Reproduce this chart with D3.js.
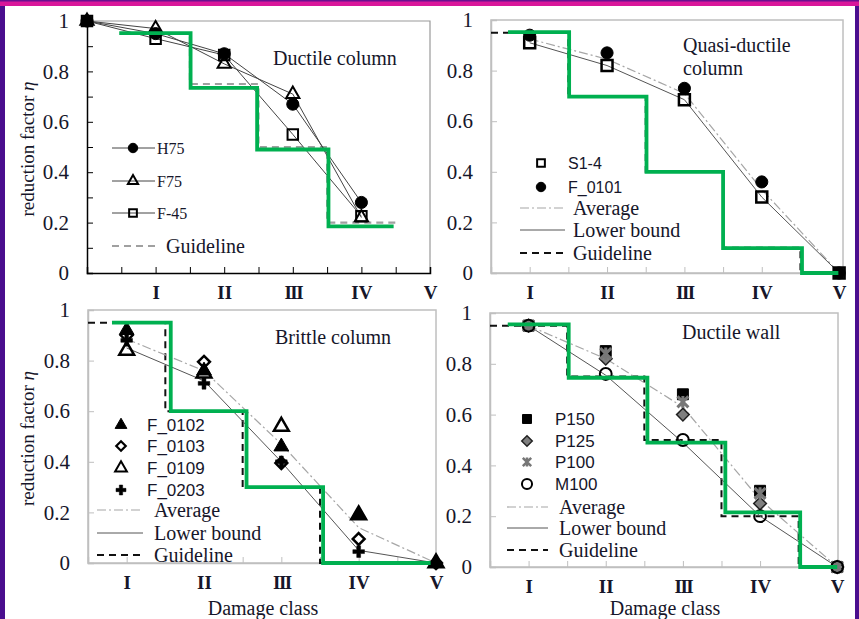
<!DOCTYPE html>
<html>
<head>
<meta charset="utf-8">
<script src="https://cdn.jsdelivr.net/npm/d3@7"></script>
<style>
  body { margin: 0; background: #fff; }
  svg { display: block; }
  text { fill: #16162a; }
  .serif { font-family: "Liberation Serif", "Times New Roman", serif; }
  .sans { font-family: "Liberation Sans", Arial, sans-serif; }
</style>
</head>
<body>
<svg id="chart" width="859" height="619"></svg>
<script>
const classes = ["I", "II", "III", "IV", "V"];
const yTicks = [0, 0.2, 0.4, 0.6, 0.8, 1];
const yTicksFine = [0, 0.1, 0.2, 0.3, 0.4, 0.5, 0.6, 0.7, 0.8, 0.9, 1];
const xTicks = [0.5, 1, 1.5, 2, 2.5, 3, 3.5, 4, 4.5, 5];

// ductile column
const dcX = [0, 1, 2, 3, 4];
const dcH75 = [1.0, 0.95, 0.87, 0.67, 0.28];
const dcF75 = [1.0, 0.97, 0.83, 0.71, 0.22];
const dcF45 = [1.0, 0.93, 0.865, 0.55, 0.225];
const dcGuideEdges = [0.5, 1.5, 2.5, 3.5, 4.5];
const dcGuideLevels = [0.95, 0.75, 0.5, 0.2];
const dcGreenEdges = [0.47, 1.51, 2.48, 3.52, 4.47];
const dcGreenLevels = [0.952, 0.735, 0.49, 0.185];

// quasi-ductile column
const qdX = [1, 2, 3, 4, 5];
const qdS14 = [0.91, 0.82, 0.685, 0.3, 0];
const qdF0101 = [0.94, 0.87, 0.73, 0.36, 0];
const qdAverage = [0.925, 0.845, 0.71, 0.33, 0];
const qdLower = [0.91, 0.82, 0.685, 0.3, 0];
const qdGuideEdges = [0.5, 1.5, 2.5, 3.5, 4.5, 5];
const qdGuideLevels = [0.95, 0.7, 0.4, 0.1, 0];
const qdGreenEdges = [0.72, 1.51, 2.51, 3.5, 4.52, 4.99];
const qdGreenLevels = [0.952, 0.697, 0.4, 0.098, 0];

// brittle column
const bcX = [1, 2, 3, 4, 5];
const bcF0102 = [0.92, 0.76, 0.46, 0.19, 0];
const bcF0103 = [0.9, 0.795, 0.395, 0.095, 0];
const bcF0109 = [0.84, 0.75, 0.54, 0.19, 0];
const bcF0203 = [0.88, 0.71, 0.4, 0.045, 0];
const bcAverage = [0.885, 0.76, 0.47, 0.14, 0];
const bcLower = [0.85, 0.72, 0.4, 0.05, 0];
const bcGuideEdges = [0.5, 1.5, 2.5, 3.5, 5];
const bcGuideLevels = [0.95, 0.6, 0.3, 0];
const bcGreenEdges = [0.81, 1.57, 2.55, 3.54, 4.93];
const bcGreenLevels = [0.95, 0.6, 0.3, 0];

// ductile wall
const dwX = [1, 2, 3, 4, 5];
const dwP150 = [0.95, 0.85, 0.68, 0.3, 0];
const dwP125 = [0.95, 0.82, 0.6, 0.25, 0];
const dwP100 = [0.95, 0.84, 0.65, 0.29, 0];
const dwM100 = [0.95, 0.76, 0.5, 0.2, 0];
const dwAverage = [0.95, 0.82, 0.63, 0.265, 0];
const dwLower = [0.95, 0.755, 0.49, 0.2, 0];
const dwGuideEdges = [0.5, 1.5, 2.5, 3.5, 4.5, 5];
const dwGuideLevels = [0.95, 0.75, 0.5, 0.2, 0];
const dwGreenEdges = [0.73, 1.52, 2.54, 3.55, 4.52, 5];
const dwGreenLevels = [0.955, 0.745, 0.49, 0.215, 0];

const GREEN = "#00b050";
const svg = d3.select("#chart");

// slide frame
svg.append("rect").attr("width", 859).attr("height", 619).attr("fill", "#fff");
svg.append("rect").attr("x", 0).attr("y", 0).attr("width", 859).attr("height", 6).attr("fill", "#d9169a");
svg.append("rect").attr("x", 0).attr("y", 0).attr("width", 859).attr("height", 1.5).attr("fill", "#6a1090");
svg.append("rect").attr("x", 0).attr("y", 6).attr("width", 5).attr("height", 613).attr("fill", "#4a0e8e");
svg.append("rect").attr("x", 855).attr("y", 6).attr("width", 4).attr("height", 613).attr("fill", "#4a0e8e");

// asterisk marker (stroke only)
const asterisk = {
  draw(ctx, size) {
    const r = Math.sqrt(size) / 2;
    ctx.moveTo(-r, -r); ctx.lineTo(r, r);
    ctx.moveTo(-r, r); ctx.lineTo(r, -r);
    ctx.moveTo(0, -r * 1.1); ctx.lineTo(0, r * 1.1);
  }
};
// square-ish diamond (rotated square)
const rhomb = {
  draw(ctx, size) {
    const w = Math.sqrt(size / 2);
    ctx.moveTo(0, -w); ctx.lineTo(w, 0); ctx.lineTo(0, w); ctx.lineTo(-w, 0);
    ctx.closePath();
  }
};

const mk = {
  dot: { type: d3.symbolCircle, size: 115, fill: "#000", stroke: "#000", sw: 1 },
  dotSm: { type: d3.symbolCircle, size: 70, fill: "#000", stroke: "#000", sw: 1 },
  tri: { type: d3.symbolTriangle, size: 75, fill: "none", stroke: "#000", sw: 2 },
  triSm: { type: d3.symbolTriangle, size: 45, fill: "none", stroke: "#000", sw: 2 },
  sq: { type: d3.symbolSquare, size: 110, fill: "none", stroke: "#000", sw: 2 },
  sqSm: { type: d3.symbolSquare, size: 60, fill: "none", stroke: "#000", sw: 2 },
  sqOpen: { type: d3.symbolSquare, size: 120, fill: "none", stroke: "#000", sw: 2.5 },
  triFill: { type: d3.symbolTriangle, size: 95, fill: "#000", stroke: "#000", sw: 1 },
  diaOpen: { type: rhomb, size: 70, fill: "none", stroke: "#000", sw: 2.5 },
  triOpen: { type: d3.symbolTriangle, size: 95, fill: "none", stroke: "#000", sw: 2.5 },
  plus: { type: d3.symbolCross, size: 75, fill: "#000", stroke: "#000", sw: 0.5 },
  sqFill: { type: d3.symbolSquare, size: 120, fill: "#000", stroke: "#000", sw: 1 },
  diaGrey: { type: rhomb, size: 80, fill: "#7f7f7f", stroke: "#222", sw: 1.5 },
  star: { type: asterisk, size: 120, fill: "none", stroke: "#777", sw: 3 },
  ring: { type: d3.symbolCircle, size: 110, fill: "none", stroke: "#000", sw: 2 }
};

function marker(g, m, cx, cy) {
  g.append("path")
    .attr("d", d3.symbol().type(m.type).size(m.size)())
    .attr("transform", `translate(${cx},${cy})`)
    .attr("fill", m.fill)
    .attr("stroke", m.stroke)
    .attr("stroke-width", m.sw)
    .attr("stroke-linejoin", "miter");
}

const lineStyles = {
  series: { stroke: "#444", sw: 1, dash: null },
  average: { stroke: "#a6a6a6", sw: 1.2, dash: "9,3,2,3" },
  lower: { stroke: "#555", sw: 1, dash: null },
  guideGrey: { stroke: "#a0a0a0", sw: 2.2, dash: "7,5" },
  guide: { stroke: "#111", sw: 2, dash: "7,5" }
};

function styled(sel, st) {
  sel.attr("fill", "none")
    .attr("stroke", st.stroke)
    .attr("stroke-width", st.sw);
  if (st.dash) sel.attr("stroke-dasharray", st.dash);
  return sel;
}

function stepPts(edges, levels) {
  return edges.map((e, i) => [e, levels[Math.min(i, levels.length - 1)]]);
}

const fmt = d => (d === 0 ? "0" : d === 1 ? "1" : d.toFixed(1));

const panels = [
  {
    xDomain: [0, 5], left: 87, right: 430, top: 21, bottom: 273,
    classic: true,
    title: ["Ductile column"], titleX: 273, titleY: [58],
    yLabel: true,
    guide: [dcGuideEdges, dcGuideLevels, "guideGrey"],
    green: [dcGreenEdges, dcGreenLevels],
    lines: [],
    series: [
      { xs: dcX, v: dcF45, m: mk.sq, line: true },
      { xs: dcX, v: dcF75, m: mk.tri, line: true },
      { xs: dcX, v: dcH75, m: mk.dot, line: true }
    ],
    legend: [
      { kind: "lm", y: 148, m: mk.dotSm, label: "H75", font: "serif", size: 16 },
      { kind: "lm", y: 181, m: mk.triSm, label: "F75", font: "serif", size: 16 },
      { kind: "lm", y: 213, m: mk.sqSm, label: "F-45", font: "serif", size: 16 },
      { kind: "l", y: 246, st: "guideGrey", label: "Guideline", font: "serif", size: 20, tx: 166 }
    ],
    legX: [112, 155], legMX: 133, legTX: 157
  },
  {
    xDomain: [0.5, 5.05], left: 491, right: 843, top: 20, bottom: 273,
    title: ["Quasi-ductile", "column"], titleX: 683, titleY: [45, 68],
    guide: [qdGuideEdges, qdGuideLevels, "guide"],
    green: [qdGreenEdges, qdGreenLevels],
    lines: [[qdX, qdAverage, "average"], [qdX, qdLower, "lower"]],
    series: [
      { xs: qdX, v: qdS14, m: mk.sqOpen },
      { xs: qdX, v: qdF0101, m: mk.dot }
    ],
    legend: [
      { kind: "m", y: 163, m: mk.sqSm, label: "S1-4", font: "sans", size: 16 },
      { kind: "m", y: 187, m: mk.dotSm, label: "F_0101", font: "sans", size: 16 },
      { kind: "l", y: 208, st: "average", label: "Average", font: "serif", size: 20 },
      { kind: "l", y: 230, st: "lower", label: "Lower bound", font: "serif", size: 20 },
      { kind: "l", y: 253, st: "guide", label: "Guideline", font: "serif", size: 20 }
    ],
    legX: [520, 565], legMX: 541, legTX: 568, legLTX: 573
  },
  {
    xDomain: [0.5, 5.0], left: 88, right: 436, top: 310, bottom: 563,
    title: ["Brittle column"], titleX: 275, titleY: [337],
    yLabel: true, xLabel: true,
    guide: [bcGuideEdges, bcGuideLevels, "guide"],
    green: [bcGreenEdges, bcGreenLevels],
    lines: [[bcX, bcAverage, "average"], [bcX, bcLower, "lower"]],
    series: [
      { xs: bcX, v: bcF0109, m: mk.triOpen },
      { xs: bcX, v: bcF0203, m: mk.plus },
      { xs: bcX, v: bcF0103, m: mk.diaOpen },
      { xs: bcX, v: bcF0102, m: mk.triFill }
    ],
    legend: [
      { kind: "m", y: 425, m: { ...mk.triFill, size: 60 }, label: "F_0102", font: "sans", size: 17 },
      { kind: "m", y: 446, m: { ...mk.diaOpen, size: 45, sw: 2.2 }, label: "F_0103", font: "sans", size: 17 },
      { kind: "m", y: 468, m: { ...mk.triOpen, size: 60, sw: 2 }, label: "F_0109", font: "sans", size: 17 },
      { kind: "m", y: 490, m: { ...mk.plus, size: 55 }, label: "F_0203", font: "sans", size: 17 },
      { kind: "l", y: 510, st: "average", label: "Average", font: "serif", size: 20 },
      { kind: "l", y: 533, st: "lower", label: "Lower bound", font: "serif", size: 20 },
      { kind: "l", y: 555, st: "guide", label: "Guideline", font: "serif", size: 20 }
    ],
    legX: [97, 143], legMX: 121, legTX: 147, legLTX: 154
  },
  {
    xDomain: [0.5, 5.01], left: 490, right: 838, top: 313, bottom: 567,
    title: ["Ductile wall"], titleX: 682, titleY: [332],
    xLabel: true,
    guide: [dwGuideEdges, dwGuideLevels, "guide"],
    green: [dwGreenEdges, dwGreenLevels],
    lines: [[dwX, dwAverage, "average"], [dwX, dwLower, "lower"]],
    series: [
      { xs: dwX, v: dwP150, m: mk.sqFill },
      { xs: dwX, v: dwP125, m: mk.diaGrey },
      { xs: dwX, v: dwP100, m: mk.star },
      { xs: dwX, v: dwM100, m: mk.ring }
    ],
    legend: [
      { kind: "m", y: 419, m: { ...mk.sqFill, size: 80 }, label: "P150", font: "sans", size: 17 },
      { kind: "m", y: 441, m: { ...mk.diaGrey, size: 55 }, label: "P125", font: "sans", size: 17 },
      { kind: "m", y: 462, m: { ...mk.star, size: 70, sw: 2.5 }, label: "P100", font: "sans", size: 17 },
      { kind: "m", y: 484, m: { ...mk.ring, size: 80 }, label: "M100", font: "sans", size: 17 },
      { kind: "l", y: 507, st: "average", label: "Average", font: "serif", size: 20 },
      { kind: "l", y: 528, st: "lower", label: "Lower bound", font: "serif", size: 20 },
      { kind: "l", y: 550, st: "guide", label: "Guideline", font: "serif", size: 20 }
    ],
    legX: [507, 548], legMX: 527, legTX: 555, legLTX: 559
  }
];

panels.forEach(p => {
  const x = d3.scaleLinear().domain(p.xDomain).range([p.left, p.right]);
  const y = d3.scaleLinear().domain([0, 1]).range([p.bottom, p.top]);
  const g = svg.append("g");
  const axisCol = p.classic ? "#000" : "#bfbfbf";

  // frame
  if (p.classic) {
    g.append("path")
      .attr("d", `M${p.left},${p.top}H${p.right}V${p.bottom}`)
      .attr("fill", "none").attr("stroke", "#9a9a9a").attr("stroke-width", 1.2);
  } else {
    g.append("rect")
      .attr("x", p.left).attr("y", p.top)
      .attr("width", p.right - p.left).attr("height", p.bottom - p.top)
      .attr("fill", "none").attr("stroke", "#bfbfbf").attr("stroke-width", 1.5);
  }

  // y axis
  const ya = g.append("g").attr("transform", `translate(${p.left},0)`)
    .call(d3.axisLeft(y)
      .tickValues(p.classic ? yTicksFine : yTicks)
      .tickSize(-6).tickPadding(18)
      .tickFormat(d => (Math.round(d * 10) % 2 === 0 ? fmt(d) : "")));
  ya.select(".domain").attr("stroke", axisCol).attr("stroke-width", 1.5);
  ya.selectAll(".tick line").attr("stroke", axisCol);
  ya.selectAll(".tick text")
    .attr("class", "serif").attr("font-size", 21).style("fill", "#16162a");

  // x axis
  const xa = g.append("g").attr("transform", `translate(0,${p.bottom})`)
    .call(d3.axisBottom(x)
      .tickValues(xTicks.filter(v => v >= p.xDomain[0] - 1e-9 && v <= p.xDomain[1] + 0.2))
      .tickSize(-6).tickPadding(13)
      .tickFormat(d => (Number.isInteger(d) ? classes[d - 1] : "")));
  xa.select(".domain").attr("stroke", axisCol).attr("stroke-width", 1.5);
  xa.selectAll(".tick line").attr("stroke", axisCol);
  xa.selectAll(".tick text")
    .attr("class", "serif").attr("font-size", 19).attr("font-weight", "bold")
    .attr("letter-spacing", d => (d === 3 ? -1.5 : 0))
    .style("fill", "#16162a");

  const line = d3.line().x(d => x(d[0])).y(d => y(d[1]));
  const step = d3.line().x(d => x(d[0])).y(d => y(d[1])).curve(d3.curveStepAfter);

  // guideline steps
  styled(g.append("path").attr("d", step(stepPts(p.guide[0], p.guide[1]))), lineStyles[p.guide[2]]);

  // average & lower bound
  p.lines.forEach(([xs, vs, st]) => {
    styled(g.append("path").attr("d", line(xs.map((v, i) => [v, vs[i]]))), lineStyles[st]);
  });

  // series lines (ductile column only)
  p.series.filter(s => s.line).forEach(s => {
    styled(g.append("path").attr("d", line(s.xs.map((v, i) => [v, s.v[i]]))), lineStyles.series);
  });

  // markers
  p.series.forEach(s => {
    s.xs.forEach((v, i) => marker(g, s.m, x(v), y(s.v[i])));
  });

  // green overlay steps
  g.append("path")
    .attr("d", step(stepPts(p.green[0], p.green[1])))
    .attr("fill", "none").attr("stroke", GREEN).attr("stroke-width", 3.8)
    .attr("stroke-linejoin", "miter");

  // title
  p.title.forEach((t, i) => {
    g.append("text").attr("class", "serif").attr("font-size", 20)
      .attr("x", p.titleX).attr("y", p.titleY[i]).attr("dy", "0.35em").text(t);
  });

  // legend
  p.legend.forEach(it => {
    if (it.kind === "lm" || it.kind === "l") {
      styled(g.append("line")
        .attr("x1", p.legX[0]).attr("x2", p.legX[1])
        .attr("y1", it.y).attr("y2", it.y), lineStyles[it.st || "series"]);
    }
    if (it.kind === "lm" || it.kind === "m") marker(g, it.m, p.legMX, it.y);
    const tx = it.tx || (it.kind === "l" && p.legLTX ? p.legLTX : p.legTX);
    g.append("text").attr("class", it.font).attr("font-size", it.size)
      .attr("x", tx).attr("y", it.y).attr("dy", "0.35em").text(it.label);
  });

  // axis titles
  if (p.yLabel) {
    const cy = (p.top + p.bottom) / 2 + 2;
    const t = g.append("text").attr("class", "serif").attr("font-size", 19)
      .attr("text-anchor", "middle")
      .attr("transform", `translate(27,${cy}) rotate(-90)`)
      .attr("dy", "0.35em");
    t.append("tspan").text("reduction factor ");
    t.append("tspan").attr("font-style", "italic").text("η");
  }
  if (p.xLabel) {
    g.append("text").attr("class", "serif").attr("font-size", 20)
      .attr("text-anchor", "middle")
      .attr("x", (p.left + p.right) / 2 + 1).attr("y", 608).attr("dy", "0.35em")
      .text("Damage class");
  }
});
</script>
</body>
</html>
